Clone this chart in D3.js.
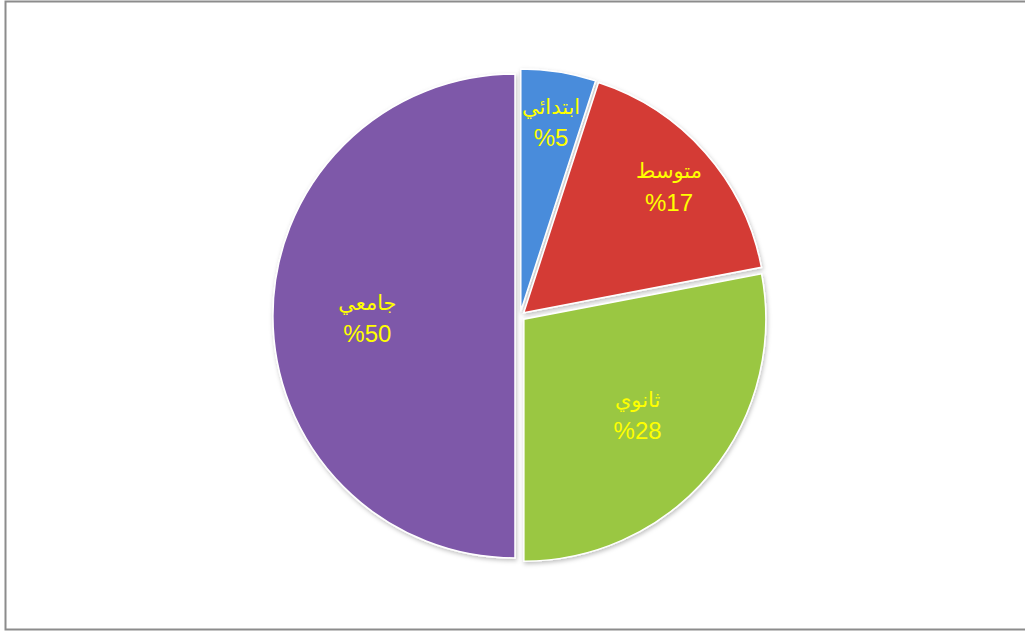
<!DOCTYPE html>
<html>
    <head>
        <meta charset="utf-8">
        <script src="https://d3js.org/d3.v7.min.js"></script>
    </head>
    <style>
        body {
            margin: 0;
            background: #fff;
        }
    </style>
    <body>
        <div id="chart"></div>
        <script>

            // Data
            const categories = ["ابتدائي", "متوسط", "ثانوي", "جامعي"];
            const values = [5, 17, 28, 50];
            const colors = ["#4585d0", "#c93833", "#92bd3f", "#7753a0"];

            const width = 1025, height = 632;
            const cx = 520, cy = 316, radius = 242, explode = 5;

            const svg = d3.select("#chart")
                .append("svg")
                .attr("width", width)
                .attr("height", height);

            // Frame around the chart area
            svg.append("rect")
                .attr("x", 5.5).attr("y", 1.5)
                .attr("width", 1030).attr("height", 628)
                .attr("fill", "none")
                .attr("stroke", "#8c8c8c")
                .attr("stroke-width", 2);

            const defs = svg.append("defs");
            const shadow = defs.append("filter").attr("id", "shadow")
                .attr("x", "-10%").attr("y", "-10%").attr("width", "120%").attr("height", "120%");
            shadow.append("feDropShadow")
                .attr("dx", 1).attr("dy", 2).attr("stdDeviation", 2)
                .attr("flood-color", "#000").attr("flood-opacity", 0.25);

            colors.forEach((c, i) => {
                const g = defs.append("radialGradient").attr("id", "grad" + i)
                    .attr("gradientUnits", "userSpaceOnUse")
                    .attr("cx", cx).attr("cy", cy).attr("r", radius);
                g.append("stop").attr("offset", "0%").attr("stop-color", d3.color(c).darker(0.1));
                g.append("stop").attr("offset", "90%").attr("stop-color", c);
                g.append("stop").attr("offset", "100%").attr("stop-color", d3.color(c).brighter(0.15));
            });

            const pie = d3.pie().sort(null).value(d => d);
            const arcs = pie(values);
            const arc = d3.arc().innerRadius(0).outerRadius(radius);

            const g = svg.append("g").attr("transform", `translate(${cx},${cy})`);

            const slice = g.selectAll("g.slice")
                .data(arcs)
                .enter()
                .append("g")
                .attr("class", "slice")
                .attr("transform", d => {
                    const a = (d.startAngle + d.endAngle) / 2;
                    return `translate(${Math.sin(a) * explode},${-Math.cos(a) * explode})`;
                });

            slice.append("path")
                .attr("d", arc)
                .attr("fill", (d, i) => `url(#grad${i})`)
                .attr("stroke", "#fff")
                .attr("stroke-width", 1.5)
                .attr("filter", "url(#shadow)");

            // Small slices get their labels further out
            const labelR = d => {
                const f = (d.endAngle - d.startAngle) / (2 * Math.PI);
                return radius * (f < 0.25 ? 0.8 : 0.61);
            };

            const label = slice.append("text")
                .attr("transform", d => {
                    const a = (d.startAngle + d.endAngle) / 2;
                    const r = labelR(d);
                    return `translate(${Math.sin(a) * r},${-Math.cos(a) * r})`;
                })
                .attr("text-anchor", "middle")
                .attr("fill", "#ffff00")
                .style("font-family", "'Liberation Sans', 'DejaVu Sans', Arial, sans-serif")
                .style("font-size", "24px");

            label.append("tspan")
                .attr("x", 0).attr("dy", "-0.3em")
                .style("font-size", "21px")
                .text((d, i) => categories[i]);
            label.append("tspan")
                .attr("x", 0).attr("dy", "1.35em")
                .attr("direction", "ltr")
                .style("unicode-bidi", "bidi-override")
                .text(d => "%" + d.data);

        </script>
    </body>
</html>
